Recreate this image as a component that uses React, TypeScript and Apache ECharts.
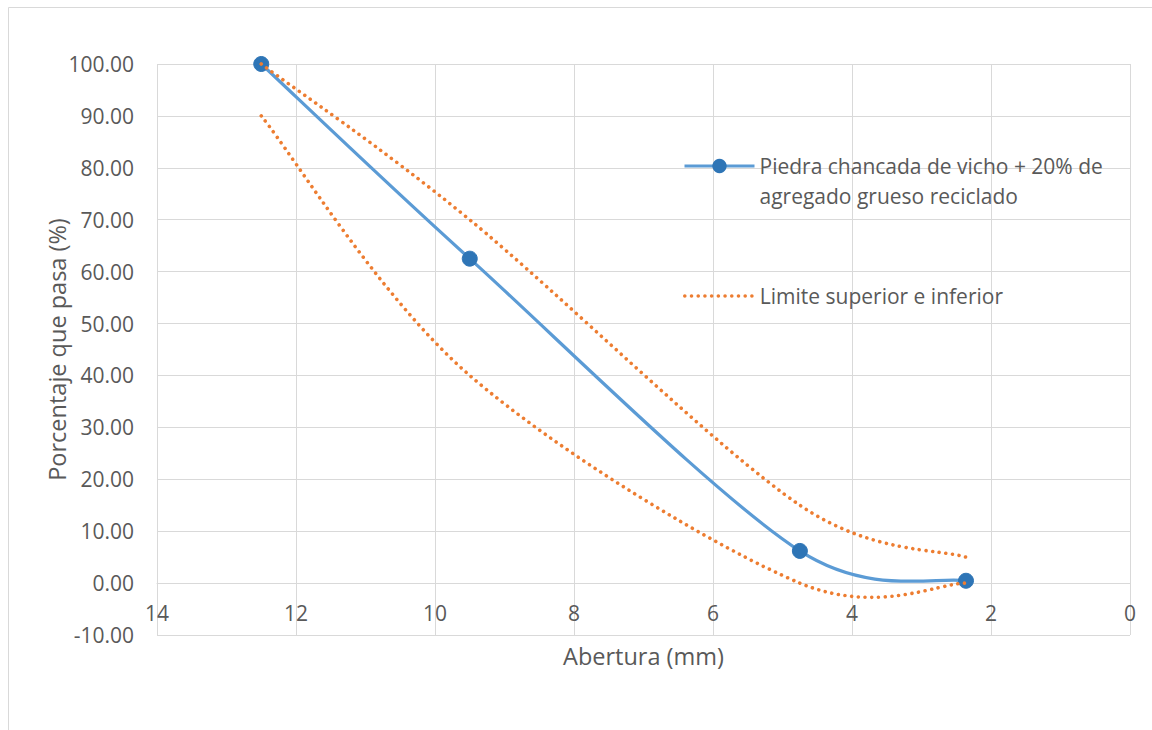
import React, { useEffect, useRef } from "react";
import * as echarts from "echarts";

const seriesName = "Piedra chancada de vicho + 20% de agregado grueso reciclado";
const seriesLegendLines = ["Piedra chancada de vicho + 20% de", "agregado grueso reciclado"];
const limitName = "Limite superior e inferior";
const sieveSizes = [12.5, 9.5, 4.75, 2.36];
const passing = [100, 62.5, 6.2, 0.45];
const upperLimit = [100, 70, 15, 5];
const lowerLimit = [90, 40, 0, 0];
const xMin = 0;
const xMax = 14;
const xStep = 2;
const yMin = -10;
const yMax = 100;
const yStep = 10;

const FONT = "'Open Sans', sans-serif";
const TXT = "#595959";
const GRID = "#D9D9D9";
const BLUE_LINE = "#5B9BD5";
const BLUE_MARK = "#2E75B6";
const ORANGE = "#ED7D31";

const GRID_TOP = 64;
const GRID_BOTTOM = 95;
const H = 730;

function pairs(ys: number[]) {
  return sieveSizes.map((x, i) => [x, ys[i]]);
}

function dist(a: number[], b: number[]) {
  return Math.hypot(b[0] - a[0], b[1] - a[1]);
}

// Excel-like smoothed scatter line (Bezier with 1/6 tension, arm capped to half segment)
function smoothPath(pts: number[][]): string {
  const n = pts.length;
  let d = `M${pts[0][0]},${pts[0][1]}`;
  for (let i = 0; i < n - 1; i++) {
    const p0 = pts[Math.max(i - 1, 0)];
    const p1 = pts[i];
    const p2 = pts[i + 1];
    const p3 = pts[Math.min(i + 2, n - 1)];
    const d02 = dist(p0, p2);
    const d12 = dist(p1, p2);
    const d13 = dist(p1, p3);
    let f0 = 1 / 6;
    let f1 = 1 / 6;
    if (d02 / 6 >= d12 / 2 && d02 > 0) f0 = d12 / d02 / 2;
    if (d13 / 6 >= d12 / 2 && d13 > 0) f1 = d12 / d13 / 2;
    const c1x = p1[0] + (p2[0] - p0[0]) * f0;
    const c1y = p1[1] + (p2[1] - p0[1]) * f0;
    const c2x = p2[0] - (p3[0] - p1[0]) * f1;
    const c2y = p2[1] - (p3[1] - p1[1]) * f1;
    d += ` C${c1x},${c1y} ${c2x},${c2y} ${p2[0]},${p2[1]}`;
  }
  return d;
}

function curveSeries(id: string, ys: number[], style: any, z: number) {
  return {
    id,
    name: id,
    type: "custom",
    data: pairs(ys),
    encode: { x: 0, y: 1 },
    z,
    silent: true,
    renderItem: (params: any, api: any) => {
      if (params.dataIndex !== 0) return null;
      const pts = sieveSizes.map((x, i) => api.coord([x, ys[i]]));
      return {
        type: "path",
        shape: { pathData: smoothPath(pts) },
        style: { fill: "none", ...style },
      };
    },
  };
}

export default function App() {
  const ref = useRef<HTMLDivElement>(null);
  useEffect(() => {
    if (!ref.current) return;
    const chart = echarts.init(ref.current, undefined, { renderer: "svg" });
    const gridHeight = H - GRID_TOP - GRID_BOTTOM;
    const zeroOffset = -gridHeight * ((0 - yMin) / (yMax - yMin));
    const DOT_W = 3.6;
    const DOT_DASH = [0.01, 6.7];
    const dotted = { stroke: ORANGE, lineWidth: DOT_W, lineDash: DOT_DASH, lineCap: "round" };
    chart.setOption({
      animation: false,
      backgroundColor: "#fff",
      textStyle: { fontFamily: FONT },
      graphic: [
        {
          type: "rect",
          shape: { x: 8.5, y: 7.5, width: 1150, height: 740 },
          style: { fill: "none", stroke: GRID, lineWidth: 1 },
          silent: true,
        },
      ],
      grid: { left: 157, right: 22, top: GRID_TOP, bottom: GRID_BOTTOM, containLabel: false },
      legend: [
        {
          data: [
            {
              name: seriesName,
              lineStyle: { opacity: 1, width: 3, color: BLUE_LINE },
              itemStyle: { color: BLUE_MARK },
            },
          ],
          formatter: () => "\n" + seriesLegendLines.join("\n"),
          left: 683,
          top: 121,
          padding: 0,
          itemWidth: 70,
          itemHeight: 18,
          textStyle: { color: TXT, fontSize: 21, fontFamily: FONT, lineHeight: 30, padding: [0, 0, 0, 0] },
        },
        {
          data: [
            {
              name: limitName,
              lineStyle: { opacity: 1, width: DOT_W, color: ORANGE, type: DOT_DASH, cap: "round" },
              itemStyle: { opacity: 0 },
            },
          ],
          left: 683,
          top: 281,
          padding: 0,
          itemWidth: 70,
          itemHeight: 18,
          textStyle: { color: TXT, fontSize: 21, fontFamily: FONT, lineHeight: 30, padding: [0, 0, 0, 0] },
        },
      ],
      xAxis: {
        type: "value",
        inverse: true,
        min: xMin,
        max: xMax,
        interval: xStep,
        position: "bottom",
        offset: zeroOffset,
        name: "Abertura (mm)",
        nameLocation: "middle",
        nameGap: 61,
        nameMoveOverlap: false,
        nameTextStyle: { color: TXT, fontSize: 23.5, fontFamily: FONT },
        axisLine: { onZero: false, lineStyle: { color: GRID, width: 1 } },
        axisTick: { show: false },
        axisLabel: { color: TXT, fontSize: 21, fontFamily: FONT, margin: 19 },
        splitLine: { show: true, lineStyle: { color: GRID, width: 1 } },
      },
      yAxis: {
        type: "value",
        min: yMin,
        max: yMax,
        interval: yStep,
        name: "Porcentaje que pasa (%)",
        nameLocation: "middle",
        nameGap: 88,
        nameMoveOverlap: false,
        nameTextStyle: { color: TXT, fontSize: 23.5, fontFamily: FONT },
        axisLine: { show: false, onZero: false },
        axisTick: { show: false },
        axisLabel: {
          color: TXT,
          fontSize: 21,
          fontFamily: FONT,
          margin: 23,
          formatter: (v: number) => v.toFixed(2),
        },
        splitLine: { show: true, lineStyle: { color: GRID, width: 1 } },
      },
      series: [
        curveSeries("curva-ensayo", passing, { stroke: BLUE_LINE, lineWidth: 3.2, lineCap: "round" }, 2),
        {
          name: seriesName,
          type: "line",
          data: pairs(passing),
          symbol: "circle",
          symbolSize: 15,
          lineStyle: { color: BLUE_LINE, width: 3, opacity: 0 },
          itemStyle: { color: BLUE_MARK, borderColor: BLUE_MARK },
          z: 3,
        },
        {
          name: limitName,
          type: "line",
          data: pairs(upperLimit),
          symbol: "none",
          lineStyle: { color: ORANGE, width: 3, opacity: 0 },
          itemStyle: { color: ORANGE },
          z: 4,
        },
        curveSeries("limite-superior", upperLimit, dotted, 4),
        curveSeries("limite-inferior", lowerLimit, dotted, 4),
      ],
    });
    return () => chart.dispose();
  }, []);
  return (
    <div
      ref={ref}
      style={{ position: "absolute", left: 0, top: 0, width: 1152, height: 730 }}
    />
  );
}
